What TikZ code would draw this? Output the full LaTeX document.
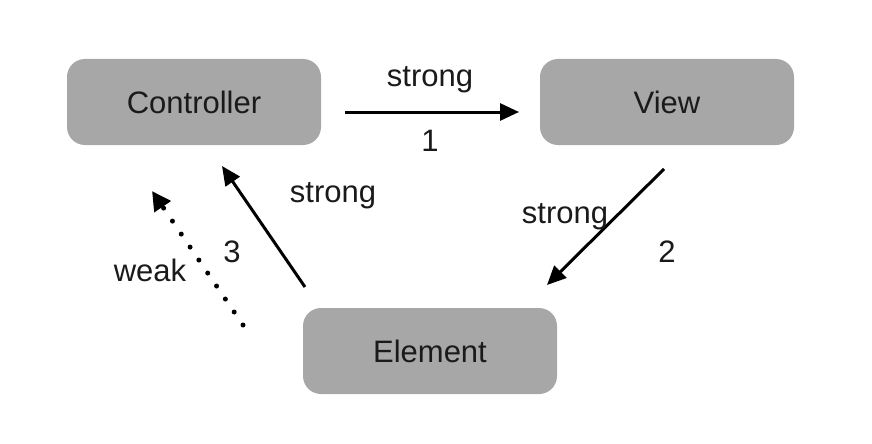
\documentclass[tikz,border=0pt]{standalone}
\usepackage{fontspec}
\setmainfont{Liberation Sans}
\usetikzlibrary{arrows.meta}
\definecolor{boxgray}{HTML}{A6A7A6}
\definecolor{txt}{HTML}{1A1A1A}
\begin{document}
\begin{tikzpicture}[x=1pt,y=-1pt,
  every node/.style={font=\fontsize{31}{36}\selectfont, text=txt},
  box/.style={fill=boxgray, rounded corners=18pt, minimum width=254pt, minimum height=86pt, inner sep=0pt},
  conn/.style={line width=3pt, -{Triangle[length=19pt,width=17pt]}},
  weakconn/.style={line width=5pt, line cap=round, dash pattern=on 0pt off 15.7pt, -{Triangle[length=19pt,width=19pt,line cap=butt]}},
  lbl/.style={inner sep=0pt}
]
\useasboundingbox (0,0) rectangle (872,444);
\node[box] (ctrl) at (194,102) {Controller};
\node[box] (view) at (667,102) {View};
\node[box] (elem) at (430,351) {Element};

\coordinate (a1s) at (345,112);
\coordinate (a1e) at (519,112);
\coordinate (a2s) at (664,169);
\coordinate (a2e) at (547,285);
\coordinate (a3s) at (305,287);
\coordinate (a3e) at (222,166);
\coordinate (a4s) at (243,325);
\coordinate (a4e) at (152,191);

\draw[conn] (a1s) -- (a1e);
\draw[conn] (a2s) -- (a2e);
\draw[conn] (a3s) -- (a3e);
\draw[weakconn] (a4s) -- (a4e);

\node[lbl] (s1) at (430,80) {strong};
\node[lbl] (n1) at (430,141) {1};
\node[lbl] (s2) at (565,217) {strong};
\node[lbl] (n2) at (667,252) {2};
\node[lbl] (s3) at (333,196) {strong};
\node[lbl] (n3) at (232,252) {3};
\node[lbl] (w) at (150,270) {weak};
\end{tikzpicture}
\end{document}
